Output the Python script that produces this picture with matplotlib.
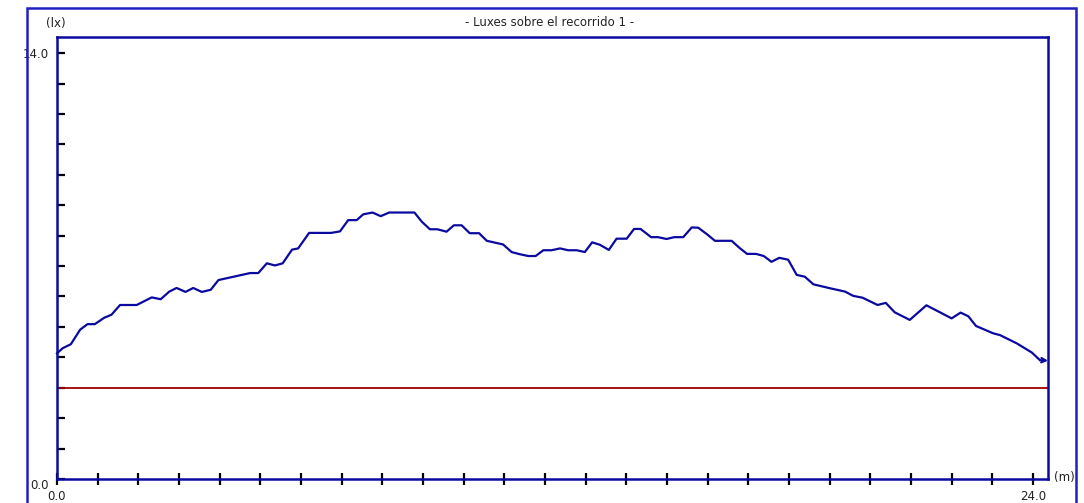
import matplotlib.pyplot as plt
from matplotlib.patches import Rectangle

# recorrido (m) y luxes
dist = [0.0, 0.14, 0.34, 0.57, 0.75, 0.93, 1.16, 1.34, 1.55, 1.96, 2.33, 2.55, 2.76, 2.94, 3.16, 3.35,
        3.56, 3.78, 3.97, 4.75, 4.95, 5.16, 5.36, 5.55, 5.78, 5.93, 6.20, 6.74, 6.96, 7.16, 7.37, 7.53,
        7.76, 7.96, 8.17, 8.79, 8.97, 9.17, 9.35, 9.58, 9.76, 9.95, 10.15, 10.38, 10.57, 10.77, 10.97,
        11.18, 11.38, 11.59, 11.77, 11.96, 12.16, 12.37, 12.57, 12.78, 12.98, 13.16, 13.35, 13.57,
        13.76, 14.01, 14.19, 14.35, 14.61, 14.78, 14.99, 15.18, 15.40, 15.61, 15.77, 15.98, 16.18,
        16.59, 16.79, 16.97, 17.19, 17.38, 17.57, 17.76, 17.98, 18.19, 18.39, 18.60, 19.01, 19.38,
        19.58, 19.81, 20.18, 20.38, 20.60, 20.97, 21.38, 22.00, 22.22, 22.41, 22.60, 23.02, 23.19,
        23.60, 23.97, 24.17, 24.37]
luxes = [4.13, 4.30, 4.43, 4.91, 5.09, 5.09, 5.30, 5.40, 5.72, 5.72, 5.97, 5.91, 6.16, 6.28, 6.15, 6.28,
         6.15, 6.22, 6.54, 6.77, 6.77, 7.09, 7.02, 7.09, 7.54, 7.58, 8.09, 8.09, 8.14, 8.51, 8.51, 8.70,
         8.76, 8.64, 8.76, 8.76, 8.46, 8.21, 8.21, 8.13, 8.34, 8.34, 8.08, 8.08, 7.83, 7.77, 7.71,
         7.46, 7.39, 7.33, 7.33, 7.52, 7.52, 7.58, 7.52, 7.52, 7.46, 7.78, 7.70, 7.53,
         7.90, 7.90, 8.22, 8.22, 7.95, 7.95, 7.89, 7.95, 7.95, 8.27, 8.26, 8.05, 7.83,
         7.83, 7.59, 7.40, 7.40, 7.33, 7.14, 7.27, 7.21, 6.71, 6.65, 6.40, 6.27, 6.16,
         6.02, 5.96, 5.72, 5.79, 5.48, 5.23, 5.71, 5.28, 5.47, 5.35, 5.03, 4.79, 4.73,
         4.46, 4.16, 3.91, 3.89]
nivel_min = 3.0
x_max = 24.37
y_max = 14.53

blue = "#0a0aa0"
txt = "#222222"
fig = plt.figure(figsize=(10.84, 5.03), dpi=100)
fig.patches.append(Rectangle((27 / 1084, -0.05), (1076 - 27) / 1084, 1.05 - 8 / 503,
                             transform=fig.transFigure, fill=False, edgecolor="#2020c0", linewidth=1.8))

ax = fig.add_axes([57 / 1084, 1 - 479 / 503, (1048 - 57) / 1084, (479 - 37) / 503])
ax.plot(dist[:-1], luxes[:-1], color=blue, linewidth=1.6, clip_on=False)
ax.annotate("", xy=(dist[-1], luxes[-1]), xytext=(dist[-2], luxes[-2]),
            arrowprops=dict(arrowstyle="->", color=blue, lw=1.5, mutation_scale=8,
                            shrinkA=0, shrinkB=0), annotation_clip=False)
ax.axhline(nivel_min, color="#a00000", linewidth=1.3)

ax.set_xlim(0, x_max)
ax.set_ylim(0, y_max)
for s in ax.spines.values():
    s.set_color(blue)
    s.set_linewidth(1.8)

ax.set_xticks(range(0, 25))
ax.set_xticklabels(["0.0"] + [""] * 23 + ["24.0"])
ax.set_yticks(range(0, 15))
ax.set_yticklabels(["0.0"] + [""] * 13 + ["14.0"])
ax.tick_params(axis="x", direction="inout", length=8, width=1.6, color="black", labelsize=8.5,
               pad=4, labelcolor=txt)
ax.tick_params(axis="y", direction="in", length=6, width=1.6, color="black", labelsize=8.5,
               pad=6, labelcolor=txt)
ax.get_yticklabels()[0].set_va("top")

fig.text(56 / 1084, 1 - 23 / 503, "(lx)", ha="center", va="center", fontsize=8.5, color=txt)
fig.text(1064 / 1084, 1 - 478 / 503, "(m)", ha="center", va="center", fontsize=8.5, color=txt)
fig.text(550 / 1084, 1 - 23 / 503, "- Luxes sobre el recorrido 1 -", ha="center", va="center",
         fontsize=8.5, color=txt)

fig.savefig("out.png", dpi=100)
